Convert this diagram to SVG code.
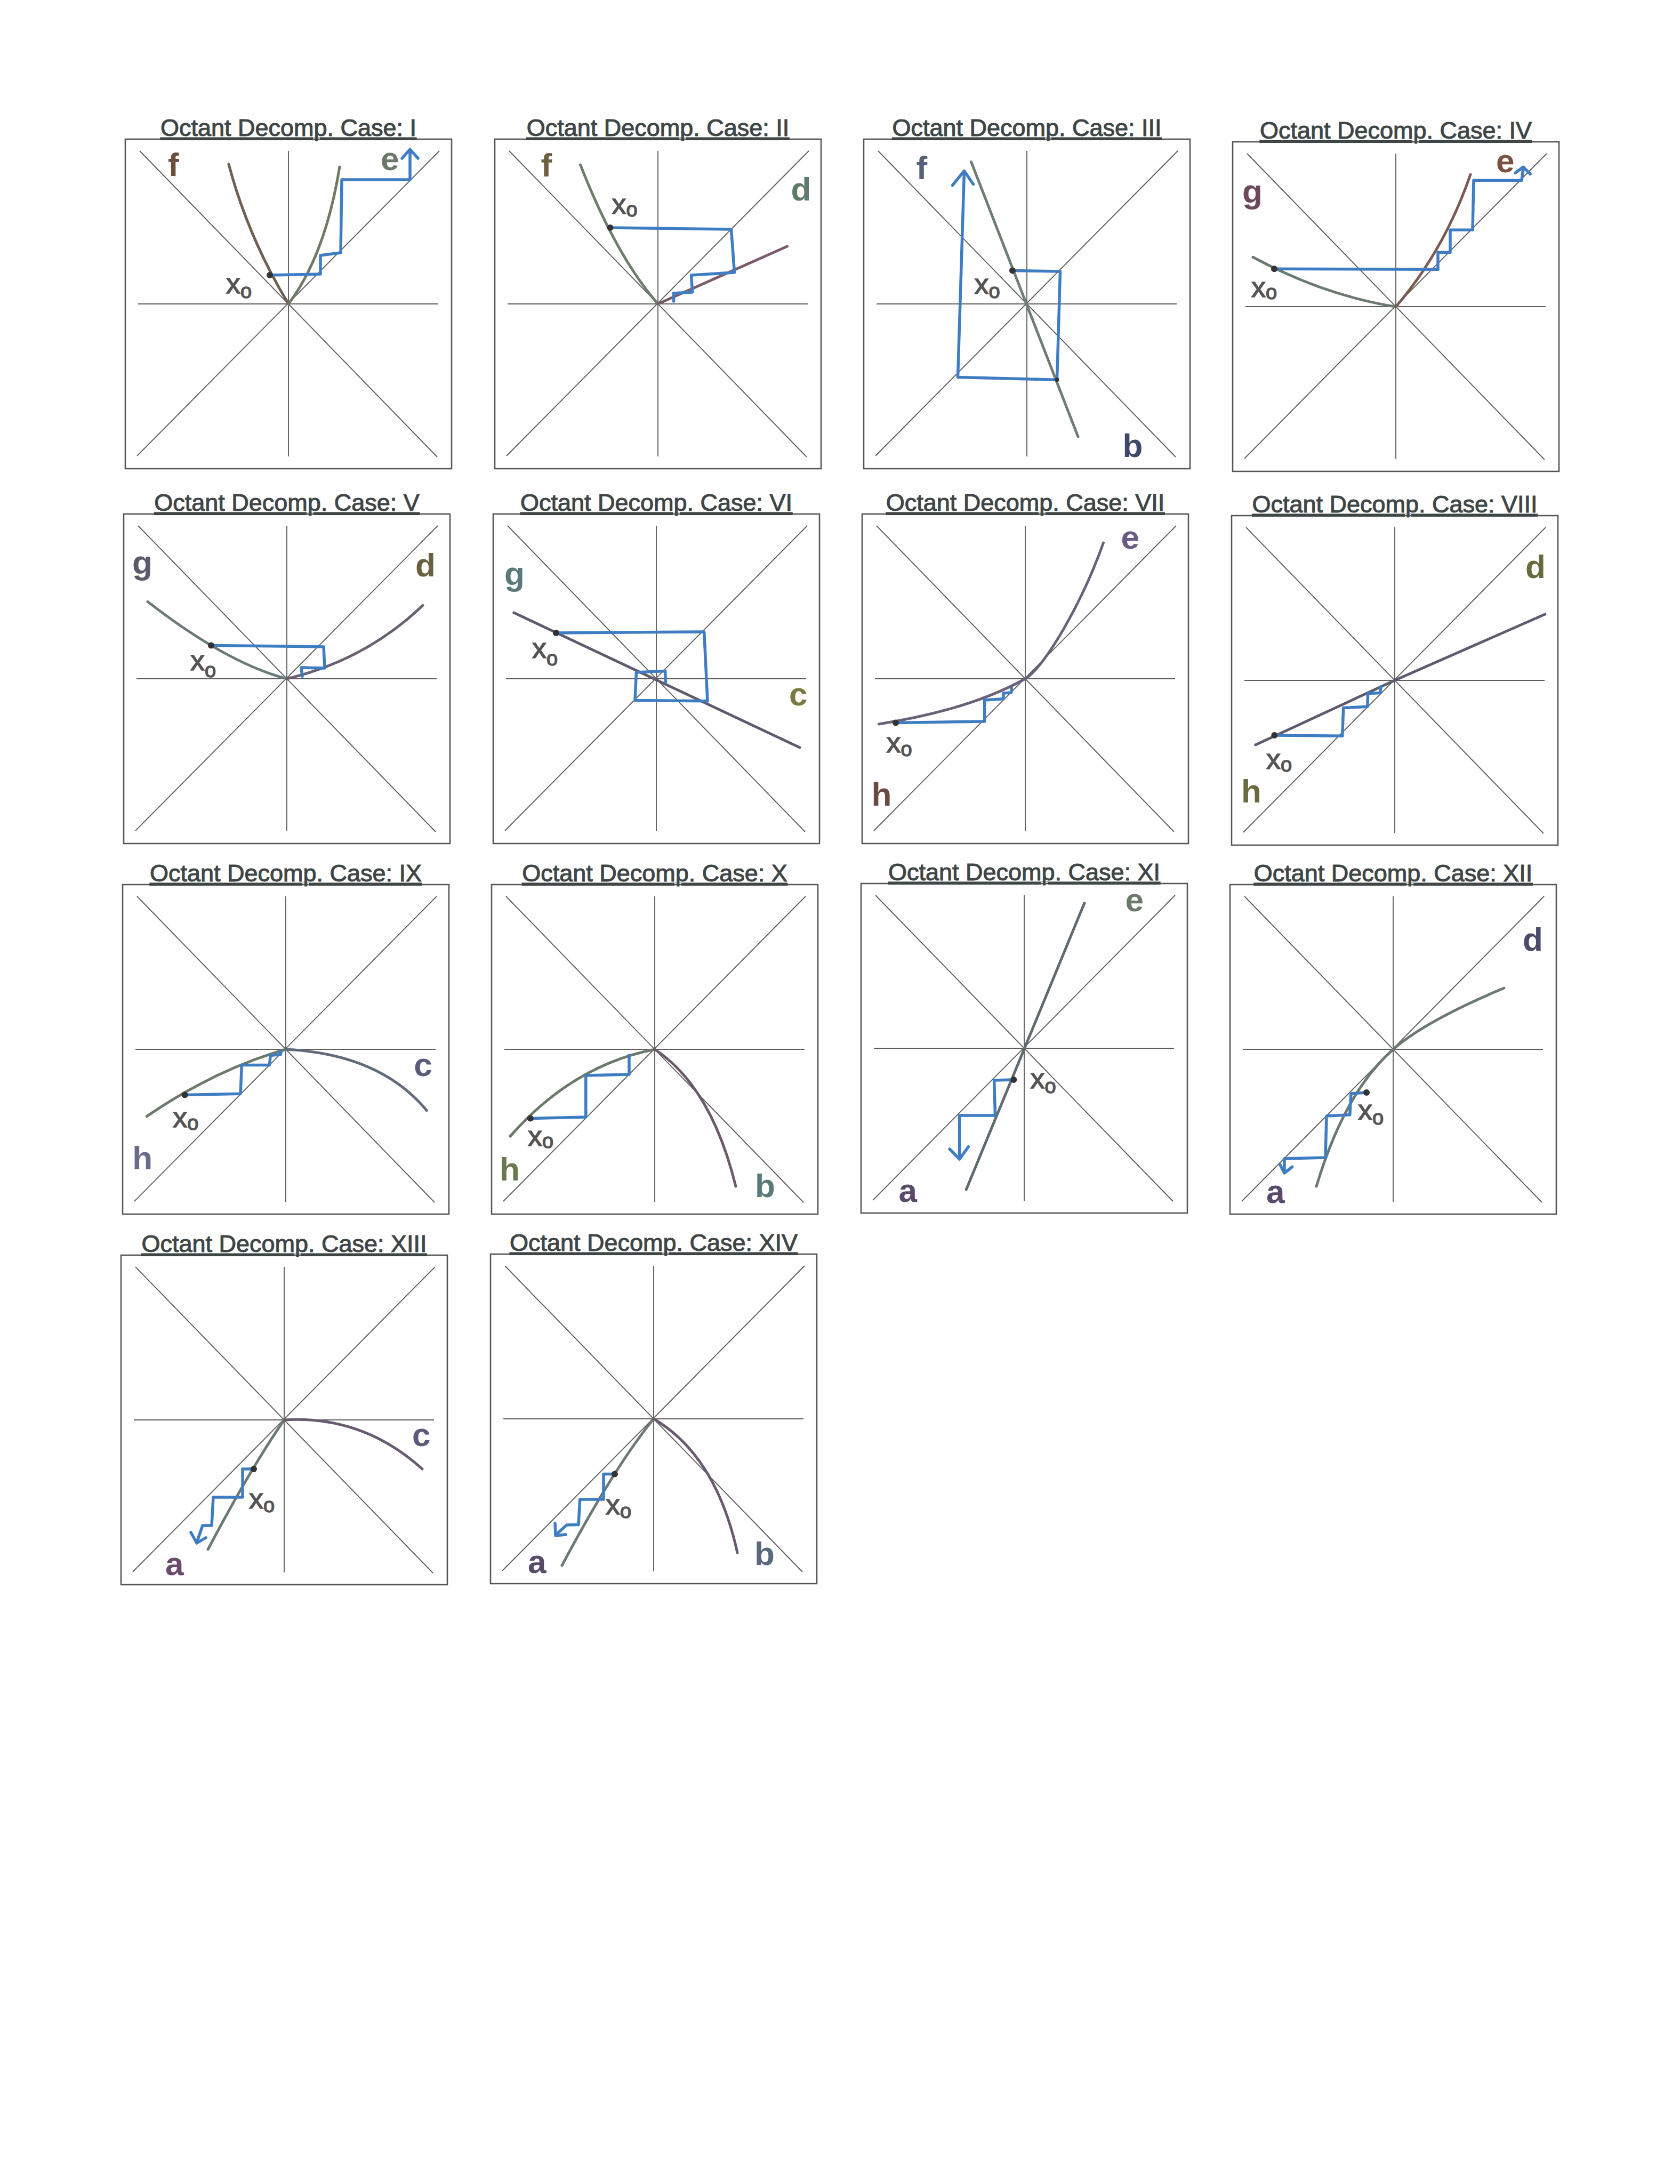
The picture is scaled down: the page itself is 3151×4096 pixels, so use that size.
<svg xmlns="http://www.w3.org/2000/svg" xmlns:xlink="http://www.w3.org/1999/xlink" width="3151" height="4096" viewBox="0 0 3151 4096">
<style>
.box{fill:none;stroke:#555;stroke-width:2.6}
.ax{stroke:#5e5e5e;stroke-width:1.9}
.cw{fill:none;stroke:#3f7dc2;stroke-width:5.5;stroke-linecap:round;stroke-linejoin:round}
.cv{fill:none;stroke-width:5;stroke-linecap:round}
.dot{fill:#333}
.t{font-family:"Liberation Sans",Arial,sans-serif;font-size:45px;fill:#3e4646;stroke:#3e4646;stroke-width:1.1;text-anchor:middle;text-decoration:underline}
.lb{font-family:"Liberation Sans",Arial,sans-serif;font-size:62px;font-weight:bold}
.xo{font-family:"Liberation Sans",Arial,sans-serif;font-size:54px;fill:#555;stroke:#555;stroke-width:1.5}
</style>
<defs>
<g id="frame">
<rect x="0" y="0" width="612" height="618" class="box"/>
<line x1="27" y1="22" x2="585" y2="596" class="ax"/>
<line x1="589" y1="22" x2="22" y2="594" class="ax"/>
<line x1="24" y1="309" x2="587" y2="309" class="ax"/>
<line x1="306" y1="22" x2="306" y2="595" class="ax"/>
</g>
</defs>
<rect width="3151" height="4096" fill="#fff"/>

<g id="case-I" transform="translate(235,261)">
<use href="#frame"/>
<text class="t" x="306" y="-6">Octant Decomp. Case: I</text>
<g transform="translate(0,3)">
<path class="cv" stroke="#6e5f4e" d="M194,44 Q230,180 306,306"/>
<path class="cv" stroke="#6f7a62" d="M306,306 Q375,215 402,49"/>
<path class="cw" d="M271,252 L366,250 L366,215 L404,210 L406,73 L534,73 L534,18 M519,33 L534,16 L549,33"/>
<circle class="dot" cx="271" cy="252" r="6"/>
<text class="lb" fill="#6b4e3e" x="80" y="66">f</text>
<text class="lb" fill="#6a7a66" x="479" y="55" font-size="58">e</text>
<text class="xo" x="189" y="286">x<tspan font-size="38" dy="9">o</tspan></text>
</g>
</g>

<g id="case-II" transform="translate(928,261)">
<use href="#frame"/>
<text class="t" x="306" y="-6">Octant Decomp. Case: II</text>
<g transform="translate(2.5,4)">
<path class="cv" stroke="#6b7f6a" d="M158,44 Q225,215 303.5,305"/>
<path class="cv" stroke="#7a5a6a" d="M303.5,305 L546,197"/>
<path class="cw" d="M214,162 L441,165 L447,246 L366,251 L368,283 L333,285 L333,300"/>
<circle class="dot" cx="214" cy="162" r="6"/>
<text class="lb" fill="#6b6040" x="84" y="66">f</text>
<text class="lb" fill="#5d7a6a" x="553" y="111">d</text>
<text class="xo" x="217" y="136">x<tspan font-size="38" dy="5">o</tspan></text>
</g>
</g>

<g id="case-III" transform="translate(1620,261)">
<use href="#frame"/>
<text class="t" x="306" y="-6">Octant Decomp. Case: III</text>
<g transform="translate(2.5,4.5)">
<path class="cv" stroke="#6e7e70" d="M199,38 L399.5,553.5"/>
<path class="cw" d="M276.5,242 L366,243.6 L360,446.8 L174,442 L186,56 M164,82 L186,55 L203,80"/>
<circle class="dot" cx="276.5" cy="242" r="6"/>
<circle class="dot" cx="360" cy="446.8" r="4"/>
<text class="lb" fill="#55607a" x="96" y="70">f</text>
<text class="lb" fill="#3e4868" x="483" y="591" font-size="66">b</text>
<text class="xo" x="205" y="285">x<tspan font-size="38" dy="8">o</tspan></text>
</g>
</g>

<g id="case-IV" transform="translate(2312,266)">
<use href="#frame"/>
<text class="t" x="306" y="-6">Octant Decomp. Case: IV</text>
<g transform="translate(2,3.3)">
<path class="cv" stroke="#6a7a70" d="M36,213 Q170,285 304,306"/>
<path class="cv" stroke="#7a5a50" d="M304,306 Q395,200 444,58"/>
<path class="cw" d="M76,235 L383,236 L383,204 L406,204 L406,162 L448,162 L450,69 L540,69 L543,46 M528,55 L543,44 L556,57"/>
<circle class="dot" cx="76" cy="235" r="6"/>
<text class="lb" fill="#6a4a5a" x="16" y="111" font-size="56">g</text>
<text class="lb" fill="#7a5040" x="492" y="54" font-size="48">e</text>
<text class="xo" x="33" y="288">x<tspan font-size="38" dy="4">o</tspan></text>
</g>
</g>

<g id="case-V" transform="translate(232,964)">
<use href="#frame"/>
<text class="t" x="306" y="-6">Octant Decomp. Case: V</text>
<g transform="translate(3,4.4)">
<path class="cv" stroke="#6a7a78" d="M42,160 Q190,275 302.8,304.6"/>
<path class="cv" stroke="#6a5f70" d="M302.8,304.6 Q450,270 558,167"/>
<path class="cw" d="M161,242 L372,244.5 L374,284.5 L330,283.6 L332,300"/>
<circle class="dot" cx="161" cy="242" r="6"/>
<text class="lb" fill="#5a5a6a" x="13" y="108" font-size="58">g</text>
<text class="lb" fill="#6a6040" x="544" y="113" font-size="58">d</text>
<text class="xo" x="122" y="289">x<tspan font-size="38" dy="13">o</tspan></text>
</g>
</g>

<g id="case-VI" transform="translate(925,964)">
<use href="#frame"/>
<text class="t" x="306" y="-6">Octant Decomp. Case: VI</text>
<g transform="translate(2,6)">
<path class="cv" stroke="#5f5a6e" d="M36.7,179 L573,432"/>
<path class="cw" d="M116,217 L393.7,215 L400,344.8 L264,343.5 L266.4,291 L320.6,288.6 L321.5,309"/>
<circle class="dot" cx="116" cy="217" r="6"/>
<text class="lb" fill="#5a7a7a" x="19" y="127" font-size="58">g</text>
<text class="lb" fill="#7a7a40" x="553" y="353" font-size="58">c</text>
<text class="xo" x="71" y="264">x<tspan font-size="38" dy="14">o</tspan></text>
</g>
</g>

<g id="case-VII" transform="translate(1617,964)">
<use href="#frame"/>
<text class="t" x="306" y="-6">Octant Decomp. Case: VII</text>
<g transform="translate(2.5,7)">
<path class="cv" stroke="#6a607a" d="M29,387 Q200,360 303.5,302 C340,280 410,160 450,47"/>
<path class="cw" d="M60.5,384.5 L227,382 L227,342 L262.4,339.8 L262.4,329 L277,328 L278,320"/>
<circle class="dot" cx="60.5" cy="384.5" r="6"/>
<text class="lb" fill="#6a5a8a" x="483" y="58" font-size="58">e</text>
<text class="lb" fill="#6a4a40" x="15" y="540" font-size="64">h</text>
<text class="xo" x="43" y="440">x<tspan font-size="38" dy="7">o</tspan></text>
</g>
</g>

<g id="case-VIII" transform="translate(2310,967)">
<use href="#frame"/>
<text class="t" x="306" y="-6">Octant Decomp. Case: VIII</text>
<g transform="translate(3,4.5)">
<path class="cv" stroke="#5f5a70" d="M41.8,425.4 L302.8,304.5 L584.8,180.5"/>
<path class="cw" d="M77.3,407.5 L204.7,408.8 L206.7,356 L251.8,353.8 L252.6,329 L275.6,328 L277,316"/>
<circle class="dot" cx="77.3" cy="407.5" r="6"/>
<text class="lb" fill="#6a6a40" x="548" y="112" font-size="58">d</text>
<text class="lb" fill="#6a6a40" x="15" y="533" font-size="64">h</text>
<text class="xo" x="62" y="470">x<tspan font-size="38" dy="5">o</tspan></text>
</g>
</g>

<g id="case-IX" transform="translate(230,1659)">
<use href="#frame"/>
<text class="t" x="306" y="-6">Octant Decomp. Case: IX</text>
<g transform="translate(2.3,-2.4)">
<path class="cv" stroke="#6a7a6a" d="M43,437 Q170,350 303.7,311.4"/>
<path class="cv" stroke="#5f6a7a" d="M303.7,311.4 Q480,320 568,426"/>
<path class="cw" d="M114.2,397 L218.8,394.6 L221,341 L273,341 L275,323 L294,321 L295,314"/>
<circle class="dot" cx="114.2" cy="397" r="6"/>
<text class="lb" fill="#5a5a7a" x="544" y="361" font-size="58">c</text>
<text class="lb" fill="#6a6a8a" x="16" y="536" font-size="64">h</text>
<text class="xo" x="92" y="457">x<tspan font-size="38" dy="5">o</tspan></text>
</g>
</g>

<g id="case-X" transform="translate(922,1659)">
<use href="#frame"/>
<text class="t" x="306" y="-6">Octant Decomp. Case: X</text>
<g transform="translate(2,-1)">
<path class="cv" stroke="#6a7a6a" d="M33,473 Q150,340 304,310"/>
<path class="cv" stroke="#6a5a6a" d="M304,310 Q410,380 456,567"/>
<path class="cw" d="M70.8,439.5 L174.8,437 L174.8,359 L256,357 L256,321"/>
<circle class="dot" cx="70.8" cy="439.5" r="6"/>
<text class="lb" fill="#6a7a50" x="13" y="556" font-size="64">h</text>
<text class="lb" fill="#5a7a7a" x="492" y="587" font-size="66">b</text>
<text class="xo" x="66" y="491">x<tspan font-size="38" dy="4">o</tspan></text>
</g>
</g>

<g id="case-XI" transform="translate(1615,1657)">
<use href="#frame"/>
<text class="t" x="306" y="-6">Octant Decomp. Case: XI</text>
<g transform="translate(0.6,1)">
<path class="cv" stroke="#5f6a70" d="M196.6,573 L418.3,35.8"/>
<path class="cw" d="M285.7,367 L249,368 L251,434 L184,434 L184,514.5 M165.5,497 L184,516 L200.8,492.5"/>
<circle class="dot" cx="285.7" cy="367" r="6"/>
<text class="lb" fill="#6a7a6a" x="495" y="51" font-size="58">e</text>
<text class="lb" fill="#5a4a6a" x="70" y="596" font-size="56">a</text>
<text class="xo" x="317" y="383">x<tspan font-size="38" dy="9">o</tspan></text>
</g>
</g>

<g id="case-XII" transform="translate(2307,1659)">
<use href="#frame"/>
<text class="t" x="306" y="-6">Octant Decomp. Case: XII</text>
<g transform="translate(0,-1)">
<path class="cv" stroke="#6a7a70" d="M162,567 Q215,390 306,310 Q366,257 514,195"/>
<path class="cw" d="M256,391 L227,393 L224.8,432.8 L181,435 L179,513 L102,515 L102,541 M93.6,526 L102,542 L116.6,530.5"/>
<circle class="dot" cx="256" cy="391" r="6"/>
<text class="lb" fill="#4a4a6a" x="549" y="125" font-size="75">d</text>
<text class="lb" fill="#5a4a6a" x="68" y="598" font-size="56">a</text>
<text class="xo" x="240" y="442">x<tspan font-size="38" dy="9">o</tspan></text>
</g>
</g>

<g id="case-XIII" transform="translate(227,2354)">
<use href="#frame"/>
<text class="t" x="306" y="-6">Octant Decomp. Case: XIII</text>
<g transform="translate(3,0)">
<path class="cv" stroke="#6a7a70" d="M160,552 Q240,400 303,309"/>
<path class="cv" stroke="#6a5a70" d="M303,309 Q450,300 562,401"/>
<path class="cw" d="M246,401 L225,401 L225,454 L170,454 L167,507 L150,507 L139,539 M128,520 L139,540 L156,530"/>
<circle class="dot" cx="246" cy="401" r="6"/>
<text class="lb" fill="#5a5a7a" x="543" y="358" font-size="58">c</text>
<text class="lb" fill="#6a4a6a" x="80" y="600" font-size="56">a</text>
<text class="xo" x="237" y="475">x<tspan font-size="38" dy="7">o</tspan></text>
</g>
</g>

<g id="case-XIV" transform="translate(920,2352)">
<use href="#frame"/>
<text class="t" x="306" y="-6">Octant Decomp. Case: XIV</text>
<g transform="translate(3,-2)">
<path class="cv" stroke="#6a7a70" d="M131,586 Q230,400 303,311"/>
<path class="cv" stroke="#6a5a70" d="M303,311 Q420,380 460,562"/>
<path class="cw" d="M230,414.5 L209,414.5 L209,462 L164.7,462 L162,509.5 L140,510 L120,528 M118,507 L119,530 L138,528"/>
<circle class="dot" cx="230" cy="414.5" r="6"/>
<text class="lb" fill="#5a4a6a" x="67" y="600" font-size="56">a</text>
<text class="lb" fill="#5a6a7a" x="492" y="585" font-size="66">b</text>
<text class="xo" x="213" y="490">x<tspan font-size="38" dy="7">o</tspan></text>
</g>
</g>

<g id="connectors"></g>
</svg>
